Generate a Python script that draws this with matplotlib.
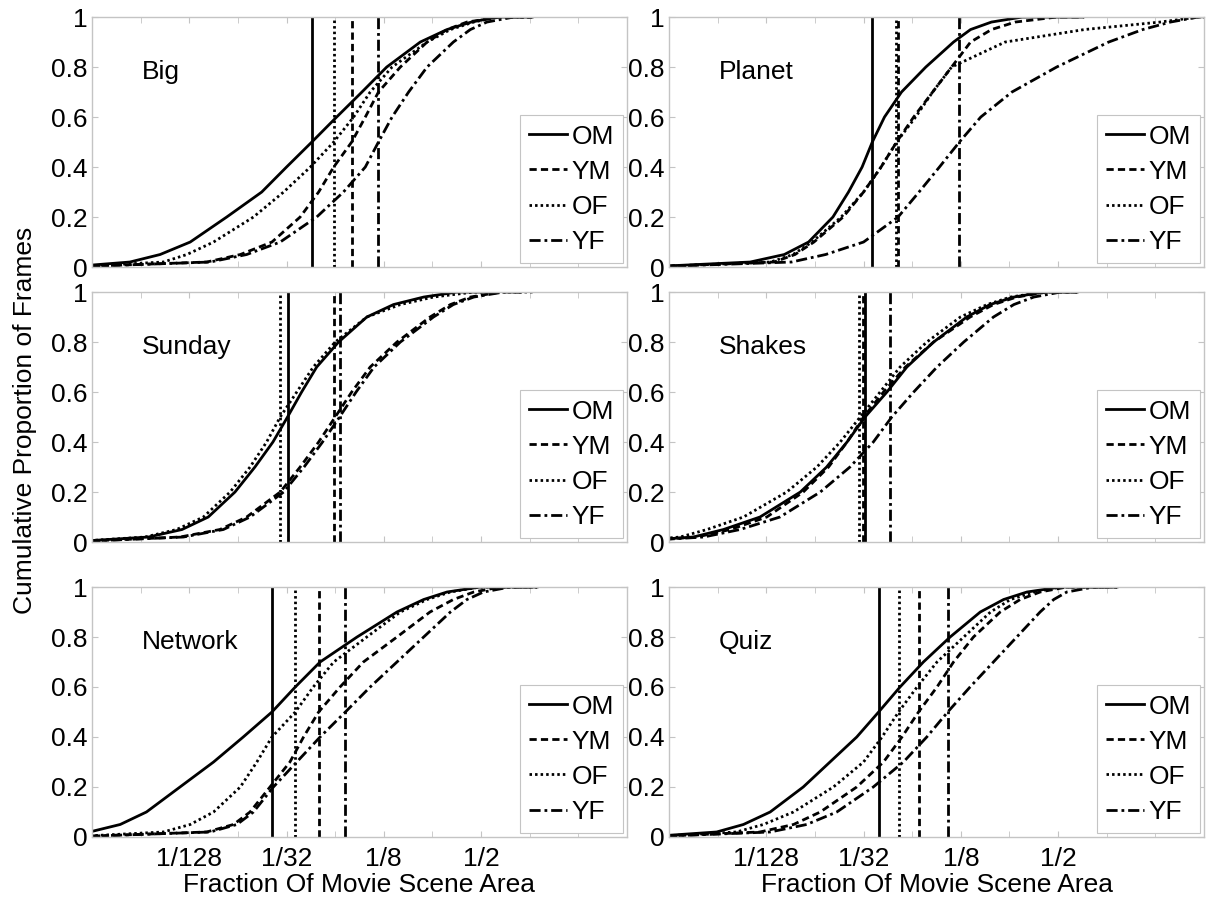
import matplotlib
matplotlib.use("Agg")
import matplotlib.pyplot as plt
from matplotlib.ticker import FixedLocator, NullFormatter

plt.rcParams['font.family'] = ['Liberation Sans', 'DejaVu Sans']

# cumulative proportion levels; the last repeated 1.0 marks where the data ends
levels = [0, 0.02, 0.05, 0.1, 0.2, 0.3, 0.4, 0.5, 0.6, 0.7, 0.8, 0.9, 0.95, 0.98, 1.0, 1.0]

# log2(fraction of scene area) at each level
big_om = [-9.5, -8.22, -7.60, -6.98, -6.23, -5.51, -5.00, -4.48, -3.97, -3.45, -2.94, -2.25, -1.70, -1.20, -0.67, 0.05]
big_ym = [-9.5, -6.64, -5.95, -5.30, -4.72, -4.34, -4.03, -3.66, -3.38, -3.11, -2.66, -2.11, -1.70, -1.29, -0.60, 0.05]
big_of = [-9.5, -7.53, -7.05, -6.50, -5.68, -5.06, -4.51, -4.03, -3.62, -3.28, -2.83, -2.11, -1.63, -1.15, -0.67, 0.05]
big_yf = [-9.5, -6.57, -5.82, -5.13, -4.38, -3.83, -3.38, -3.11, -2.83, -2.49, -2.11, -1.57, -1.22, -0.88, -0.33, 0.05]

planet_om = [-9.5, -7.33, -6.63, -6.13, -5.63, -5.31, -5.03, -4.82, -4.57, -4.22, -3.72, -3.15, -2.80, -2.37, -1.74, -0.50]
planet_ym = [-9.5, -6.84, -6.41, -6.02, -5.42, -5.00, -4.64, -4.32, -3.97, -3.58, -3.19, -2.80, -2.37, -1.88, -1.03, -0.46]
planet_of = [-9.5, -6.91, -6.45, -6.06, -5.46, -5.00, -4.64, -4.32, -3.93, -3.58, -3.19, -2.09, -0.46, 1.10, 1.88, 2.0]
planet_yf = [-9.5, -6.48, -5.78, -5.00, -4.29, -3.86, -3.44, -3.03, -2.59, -1.95, -1.03, 0.04, 0.74, 1.31, 1.88, 2.0]

sunday_om = [-9.5, -7.84, -7.15, -6.61, -6.06, -5.65, -5.28, -4.98, -4.69, -4.38, -3.93, -3.35, -2.80, -2.18, -1.50, -0.67]
sunday_ym = [-9.5, -7.19, -6.37, -5.82, -5.13, -4.72, -4.34, -4.00, -3.66, -3.28, -2.73, -2.05, -1.63, -1.22, -0.60, -0.12]
sunday_of = [-9.5, -7.91, -7.26, -6.71, -6.16, -5.75, -5.41, -5.13, -4.79, -4.45, -4.00, -3.35, -2.66, -1.98, -1.15, 0.08]
sunday_yf = [-9.5, -7.12, -6.30, -5.75, -5.06, -4.64, -4.26, -3.91, -3.57, -3.20, -2.66, -1.98, -1.57, -1.15, -0.54, -0.12]

shakes_om = [-10, -8.50, -7.88, -7.13, -6.30, -5.76, -5.34, -4.97, -4.52, -4.11, -3.56, -2.88, -2.40, -1.91, -1.30, -0.61]
shakes_ym = [-10, -8.43, -7.74, -6.99, -6.24, -5.72, -5.34, -5.00, -4.59, -4.14, -3.56, -2.81, -2.33, -1.85, -1.23, -0.61]
shakes_of = [-10, -8.77, -8.22, -7.47, -6.58, -5.96, -5.48, -5.07, -4.66, -4.25, -3.70, -3.01, -2.46, -1.98, -1.30, -0.61]
shakes_yf = [-10, -8.29, -7.54, -6.72, -5.89, -5.28, -4.80, -4.42, -3.97, -3.49, -2.94, -2.33, -1.91, -1.50, -0.95, -0.61]

network_om = [-10, -9.05, -8.42, -7.88, -7.19, -6.50, -5.89, -5.30, -4.82, -4.31, -3.55, -2.73, -2.18, -1.70, -1.02, 0.15]
network_ym = [-9.5, -6.64, -6.09, -5.75, -5.34, -4.93, -4.65, -4.34, -3.90, -3.42, -2.73, -2.05, -1.57, -1.15, -0.60, 0.15]
network_of = [-9.5, -7.53, -6.98, -6.50, -5.95, -5.61, -5.30, -4.82, -4.45, -4.03, -3.35, -2.66, -2.11, -1.63, -1.02, 0.15]
network_yf = [-9.5, -6.57, -6.02, -5.68, -5.27, -4.79, -4.31, -3.79, -3.28, -2.73, -2.18, -1.63, -1.29, -0.95, -0.40, 0.15]

quiz_om = [-9.5, -8.02, -7.47, -6.92, -6.24, -5.69, -5.14, -4.69, -4.25, -3.77, -3.22, -2.60, -2.12, -1.64, -0.95, 0.21]
quiz_ym = [-9.5, -7.13, -6.44, -5.89, -5.14, -4.59, -4.21, -3.87, -3.49, -3.15, -2.74, -2.19, -1.78, -1.37, -0.82, 0.21]
quiz_of = [-9.5, -7.61, -7.06, -6.44, -5.62, -5.00, -4.62, -4.28, -3.90, -3.49, -2.94, -2.39, -1.98, -1.50, -0.95, 0.21]
quiz_yf = [-9.5, -6.92, -6.17, -5.55, -4.80, -4.18, -3.70, -3.27, -2.81, -2.33, -1.85, -1.37, -1.09, -0.82, -0.27, 0.21]

# medians (log2), order OM, YM, OF, YF
big_med = [-4.48, -3.66, -4.03, -3.11]
planet_med = [-4.82, -4.30, -4.34, -3.03]
sunday_med = [-4.98, -4.03, -5.13, -3.91]
shakes_med = [-4.97, -5.02, -5.10, -4.45]
network_med = [-5.30, -4.34, -4.82, -3.79]
quiz_med = [-4.69, -3.87, -4.28, -3.27]

groups = ["OM", "YM", "OF", "YF"]
styles = ["-", (0, (2.6, 1.5)), (0, (0.9, 1.1)), (0, (4.0, 1.4, 1.0, 1.4))]
movies = ["Big", "Planet", "Sunday", "Shakes", "Network", "Quiz"]
curves = [
    [big_om, big_ym, big_of, big_yf],
    [planet_om, planet_ym, planet_of, planet_yf],
    [sunday_om, sunday_ym, sunday_of, sunday_yf],
    [shakes_om, shakes_ym, shakes_of, shakes_yf],
    [network_om, network_ym, network_of, network_yf],
    [quiz_om, quiz_ym, quiz_of, quiz_yf],
]
medians = [big_med, planet_med, sunday_med, shakes_med, network_med, quiz_med]

xticks = [1 / 128, 1 / 32, 1 / 8, 1 / 2]
xticklabels = ["1/128", "1/32", "1/8", "1/2"]
yticks = [0, 0.2, 0.4, 0.6, 0.8, 1]
yticklabels = ["0", "0.2", "0.4", "0.6", "0.8", "1"]

FS = 19
GRAY = "#c4c4c4"

fig = plt.figure(figsize=(12.12, 9.07), dpi=100)
col_x = [0.0759, 0.552]
row_y = [0.7056, 0.4024, 0.0772]
w, h = 0.4414, 0.2756

for i, name in enumerate(movies):
    r, c = divmod(i, 2)
    ax = fig.add_axes([col_x[c], row_y[r], w, h])
    ax.set_xscale("log", base=2)
    for g, ls, xs, m in zip(groups, styles, curves[i], medians[i]):
        ax.plot([2 ** v for v in xs], levels, color="black", ls=ls, lw=2.0, label=g)
        ax.axvline(2 ** m, color="black", ls=ls, lw=2.0)
    ax.set_xlim(2 ** -9, 2 ** 2)
    ax.set_ylim(0, 1)
    ax.xaxis.set_major_locator(FixedLocator(xticks))
    ax.xaxis.set_minor_locator(FixedLocator([2.0 ** k for k in range(-9, 3)]))
    ax.xaxis.set_minor_formatter(NullFormatter())
    if r == 2:
        ax.set_xticklabels(xticklabels, fontsize=FS)
        ax.set_xlabel("Fraction Of Movie Scene Area", fontsize=FS, labelpad=2)
    else:
        ax.set_xticklabels([])
    ax.set_yticks(yticks)
    ax.set_yticklabels(yticklabels, fontsize=FS)
    ax.tick_params(which="both", direction="in", top=True, right=True,
                   color=GRAY, length=4, pad=3)
    ax.tick_params(axis="x", pad=7)
    for s in ax.spines.values():
        s.set_color(GRAY)
        s.set_linewidth(1.0)
    ax.text(0.093, 0.78, name, transform=ax.transAxes, fontsize=FS,
            ha="left", va="center")
    leg = ax.legend(loc="lower right", fontsize=FS, frameon=True, fancybox=False,
                    framealpha=1, edgecolor=GRAY, borderaxespad=0.15,
                    handlelength=1.45, handletextpad=0.15, labelspacing=0.42,
                    borderpad=0.35)
    leg.get_frame().set_linewidth(0.8)

fig.text(0.021, 0.537, "Cumulative Proportion of Frames", rotation=90,
         ha="center", va="center", fontsize=FS)

fig.savefig("out.png", dpi=100)
